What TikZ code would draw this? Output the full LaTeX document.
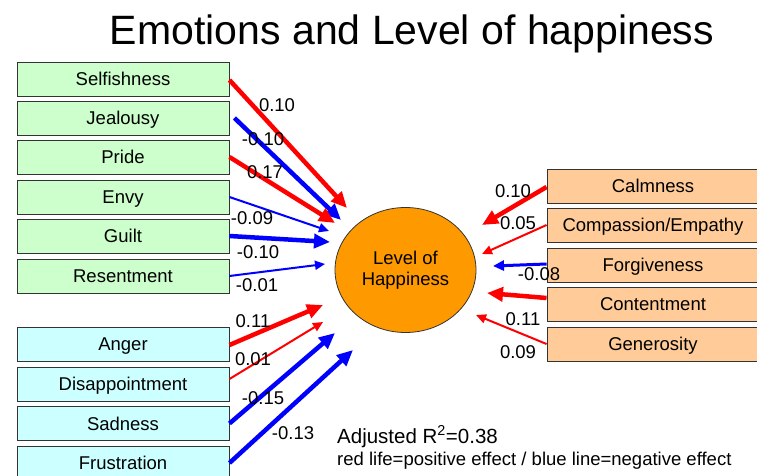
\documentclass[tikz,border=0pt]{standalone}
\usepackage{fontspec}
\setmainfont{Liberation Sans}
\usetikzlibrary{arrows.meta,shapes.geometric}
\definecolor{boxgreen}{HTML}{CCFFCC}
\definecolor{boxcyan}{HTML}{CCFFFF}
\definecolor{boxorange}{HTML}{FFCC99}
\definecolor{hubfill}{HTML}{FF9900}
\begin{document}
\begin{tikzpicture}[x=1pt,y=-1pt,
  emo/.style={draw=black!80, line width=0.9pt, minimum width=212pt, minimum height=34pt, inner sep=0pt, text height=13.2pt, text depth=0pt, font=\fontsize{18.5}{21}\selectfont},
  lbl/.style={inner sep=0pt, font=\fontsize{18.5}{21}\selectfont},
  thickarrow/.style={line width=4.5pt, -{Triangle[length=16pt,width=14pt]}},
  thinarrow/.style={line width=2pt, -{Triangle[length=10pt,width=9pt]}},
  midarrow/.style={line width=3pt, -{Triangle[length=11pt,width=10pt]}},
  posline/.style={draw=red},
  negline/.style={draw=blue}]
\clip (0,0) rectangle (757,476);
\fill[white] (0,0) rectangle (757,476);

\node[anchor=base, inner sep=0pt, font=\fontsize{41}{44}\selectfont] (title) at (412,45) {Emotions and Level of happiness};

% left boxes
\node[emo, fill=boxgreen] (self) at (123,79) {Selfishness};
\node[emo, fill=boxgreen] (jeal) at (123,118) {Jealousy};
\node[emo, fill=boxgreen] (pride) at (123,157) {Pride};
\node[emo, fill=boxgreen] (envy) at (123,197) {Envy};
\node[emo, fill=boxgreen] (guilt) at (123,236) {Guilt};
\node[emo, fill=boxgreen] (resent) at (123,276) {Resentment};
\node[emo, fill=boxcyan] (anger) at (123,344) {Anger};
\node[emo, fill=boxcyan] (disap) at (123,384) {Disappointment};
\node[emo, fill=boxcyan] (sad) at (123,423.5) {Sadness};
\node[emo, fill=boxcyan] (frus) at (123,463) {Frustration};

% right boxes
\node[emo, fill=boxorange] (calm) at (653,186) {Calmness};
\node[emo, fill=boxorange] (comp) at (653,225) {Compassion/Empathy};
\node[emo, fill=boxorange] (forg) at (653,265) {Forgiveness};
\node[emo, fill=boxorange] (cont) at (653,304) {Contentment};
\node[emo, fill=boxorange] (gene) at (653,344) {Generosity};

% hub
\node[ellipse, draw=black!80, line width=0.8pt, fill=hubfill, minimum width=141pt, minimum height=125pt, inner sep=0pt, align=center, font=\fontsize{18.5}{20.7}\selectfont] (hub) at (405.5,270) {Level of\\Happiness};

% arrow tips
\coordinate (tself) at (347,208);
\coordinate (tjeal) at (341,220);
\coordinate (tpride) at (335,223);
\coordinate (tenvy) at (329,231);
\coordinate (tguilt) at (330,242);
\coordinate (tresent) at (325,264);
\coordinate (tanger) at (323,305);
\coordinate (tdisap) at (323,322);
\coordinate (tsad) at (335,333);
\coordinate (tfrus) at (353,350);
\coordinate (tcalm) at (482,225);
\coordinate (tcomp) at (482,254);
\coordinate (tforg) at (493,266);
\coordinate (tcont) at (487,293);
\coordinate (tgene) at (476,315);

\draw[posline, thickarrow] ([yshift=-1pt]self.east) -- (tself);
\draw[negline, thickarrow] ([xshift=5pt]jeal.east) -- (tjeal);
\draw[posline, thickarrow] (pride.east) -- (tpride);
\draw[negline, thinarrow] (envy.east) -- (tenvy);
\draw[negline, thickarrow] (guilt.east) -- (tguilt);
\draw[negline, thinarrow] (resent.east) -- (tresent);
\draw[posline, thickarrow] ([yshift=-1pt]anger.east) -- (tanger);
\draw[posline, thinarrow] ([yshift=5pt]disap.east) -- (tdisap);
\draw[negline, thickarrow] (sad.east) -- (tsad);
\draw[negline, thickarrow] (frus.east) -- (tfrus);

\draw[posline, thickarrow] ([yshift=-1pt]calm.west) -- (tcalm);
\draw[posline, thinarrow] (comp.west) -- (tcomp);
\draw[negline, midarrow] ([yshift=1pt]forg.west) -- (tforg);
\draw[posline, thickarrow] ([yshift=6pt]cont.west) -- (tcont);
\draw[posline, thinarrow] (gene.west) -- (tgene);

% labels
\node[lbl] (lself) at (277,105) {0.10};
\node[lbl] (ljeal) at (263,139) {-0.10};
\node[lbl] (lpride) at (265,172) {0.17};
\node[lbl] (lenvy) at (252,218) {-0.09};
\node[lbl] (lguilt) at (258,252) {-0.10};
\node[lbl] (lresent) at (257,285) {-0.01};
\node[lbl] (langer) at (253,321) {0.11};
\node[lbl] (ldisap) at (253,359) {0.01};
\node[lbl] (lsad) at (263,398) {-0.15};
\node[lbl] (lfrus) at (293,433) {-0.13};
\node[lbl] (lcalm) at (513,191) {0.10};
\node[lbl] (lcomp) at (518,223) {0.05};
\node[lbl] (lforg) at (539,274) {-0.08};
\node[lbl] (lcont) at (523,319) {0.11};
\node[lbl] (lgene) at (518,352) {0.09};

\node[anchor=base west, inner sep=0pt, font=\fontsize{20.5}{23}\selectfont] (r2) at (337,443) {Adjusted R\textsuperscript{2}=0.38};
\node[anchor=base west, inner sep=0pt, font=\fontsize{18.5}{21}\selectfont] (legend) at (337,465) {red life=positive effect / blue line=negative effect};
\end{tikzpicture}
\end{document}
